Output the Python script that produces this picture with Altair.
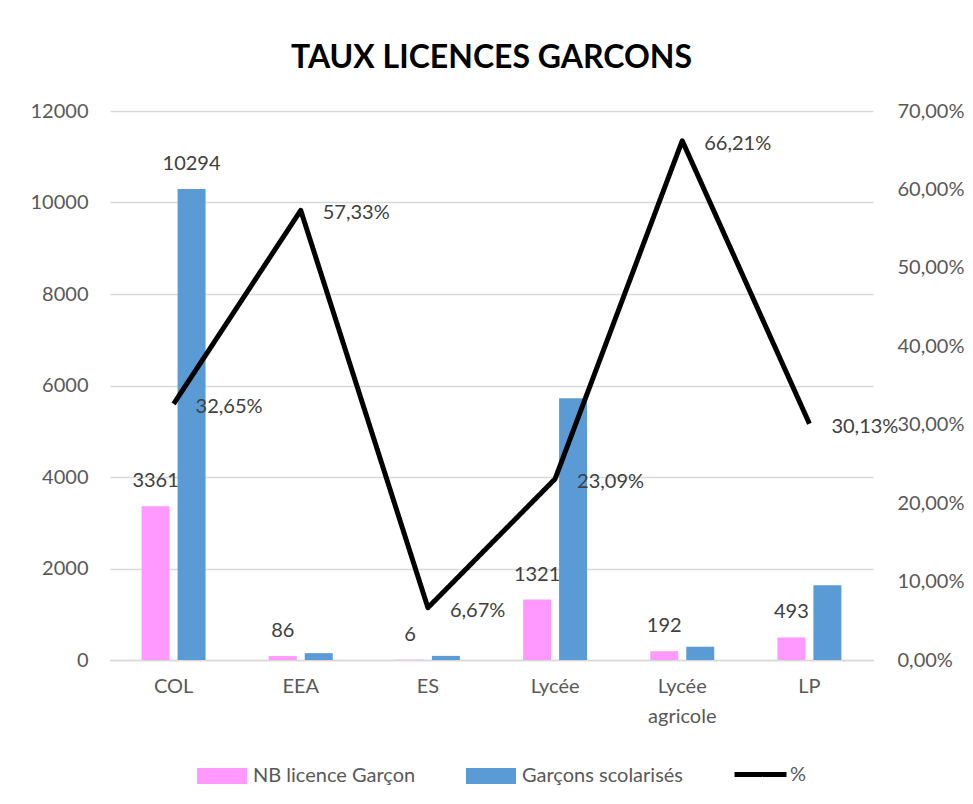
import altair as alt
import pandas as pd

categories = ["COL", "EEA", "ES", "Lycée", "Lycée agricole", "LP"]
nb_licence = [3361, 86, 6, 1321, 192, 493]
scolarises = [10294, 150, 90, 5721, 290, 1636]
taux = [0.3265, 0.5733, 0.0667, 0.2309, 0.6621, 0.3013]
series_names = ["NB licence Garçon", "Garçons scolarisés"]
line_name = "%"
colors = ["#FF99FF", "#5B9BD5"]
label_nb = [True, True, True, True, True, True]
label_sc = [True, False, False, False, False, False]

FONT = "Lato"
GRID = "#D9D9D9"
AXIS_TXT = "#595959"
DATA_TXT = "#404040"

rows = []
for i, c in enumerate(categories):
    rows.append({"cat": c, "series": series_names[0], "value": nb_licence[i], "show": label_nb[i]})
    rows.append({"cat": c, "series": series_names[1], "value": scolarises[i], "show": label_sc[i]})
bars_df = pd.DataFrame(rows)
line_df = pd.DataFrame({"cat": categories, "pct": taux, "series": [line_name] * len(categories)})

rect_path = "M-1,-0.32H1V0.32H-1Z"

x_enc = alt.X(
    "cat:N", sort=categories,
    scale=alt.Scale(paddingInner=0.497, paddingOuter=0.2485),
    axis=alt.Axis(title=None, labelExpr="split(datum.label, ' ')", labelFontSize=20,
                  labelColor=AXIS_TXT, labelPadding=16, labelLineHeight=30,
                  domainColor=GRID, domainWidth=1.5, ticks=False, labelAngle=0, grid=False),
)
xoff_enc = alt.XOffset("series:N", sort=series_names,
                       scale=alt.Scale(paddingInner=0.2222, paddingOuter=0))

color_enc = alt.Color(
    "series:N",
    sort=series_names,
    scale=alt.Scale(domain=series_names, range=colors),
    legend=alt.Legend(
        title=None, orient="none", direction="horizontal", legendX=87, legendY=640,
        symbolType=rect_path, symbolSize=2500, symbolStrokeWidth=0,
        labelFontSize=20, labelColor=AXIS_TXT, labelLimit=400,
        columnPadding=50, labelOffset=6,
    ),
)

y_left = alt.Y(
    "value:Q", scale=alt.Scale(domain=[0, 12000]),
    axis=alt.Axis(values=list(range(0, 12001, 2000)), format="d", title=None, grid=True,
                  gridColor=GRID, gridWidth=1.5, domain=False, ticks=False, labelFontSize=20,
                  labelColor=AXIS_TXT, labelPadding=22),
)

bars = alt.Chart(bars_df).mark_bar().encode(x=x_enc, xOffset=xoff_enc, y=y_left, color=color_enc)
bar_text = alt.Chart(bars_df).transform_filter("datum.show").mark_text(
    dy=-25, fontSize=20, color=DATA_TXT, font=FONT
).encode(x=x_enc, xOffset=xoff_enc, y=alt.Y("value:Q"), text="value:Q")

y_right = alt.Y(
    "pct:Q", scale=alt.Scale(domain=[0, 0.7]),
    axis=alt.Axis(orient="right", values=[0, 0.1, 0.2, 0.3, 0.4, 0.5, 0.6, 0.7], title=None,
                  grid=False, domain=False, ticks=False, labelFontSize=20, labelColor=AXIS_TXT,
                  labelPadding=24, labelExpr="replace(format(datum.value, '.2%'), '.', ',')"),
)
line = alt.Chart(line_df).mark_line(strokeWidth=5, strokeJoin="round", color="#000000").encode(
    x=x_enc, y=y_right,
    strokeDash=alt.StrokeDash(
        "series:N", scale=alt.Scale(domain=[line_name], range=[[1, 0]]),
        legend=alt.Legend(title=None, orient="none", legendX=622, legendY=635,
                          symbolType="stroke", symbolSize=2700,
                          symbolStrokeWidth=5, symbolStrokeColor="#000000",
                          labelFontSize=20, labelColor=AXIS_TXT, labelOffset=1),
    ),
)
line_text = alt.Chart(line_df).transform_calculate(
    lbl="replace(format(datum.pct, '.2%'), '.', ',')"
).mark_text(align="left", dx=22, dy=3, fontSize=20, color=DATA_TXT, font=FONT).encode(
    x=x_enc, y=alt.Y("pct:Q"), text="lbl:N"
)

chart = alt.layer(
    alt.layer(bars, bar_text),
    alt.layer(line, line_text),
).resolve_scale(y="independent").properties(
    width=763, height=549,
    padding={"left": 102, "top": 103, "right": 92, "bottom": 140},
    autosize=alt.AutoSizeParams(type="none"),
    title=alt.TitleParams("TAUX LICENCES GARCONS", fontSize=32, font=FONT, fontWeight="bold",
                          color="#000000", anchor="middle", offset=26),
).configure(font=FONT).configure_view(stroke=None)

chart.save("out.html", embed_options={"renderer": "svg", "actions": False})
